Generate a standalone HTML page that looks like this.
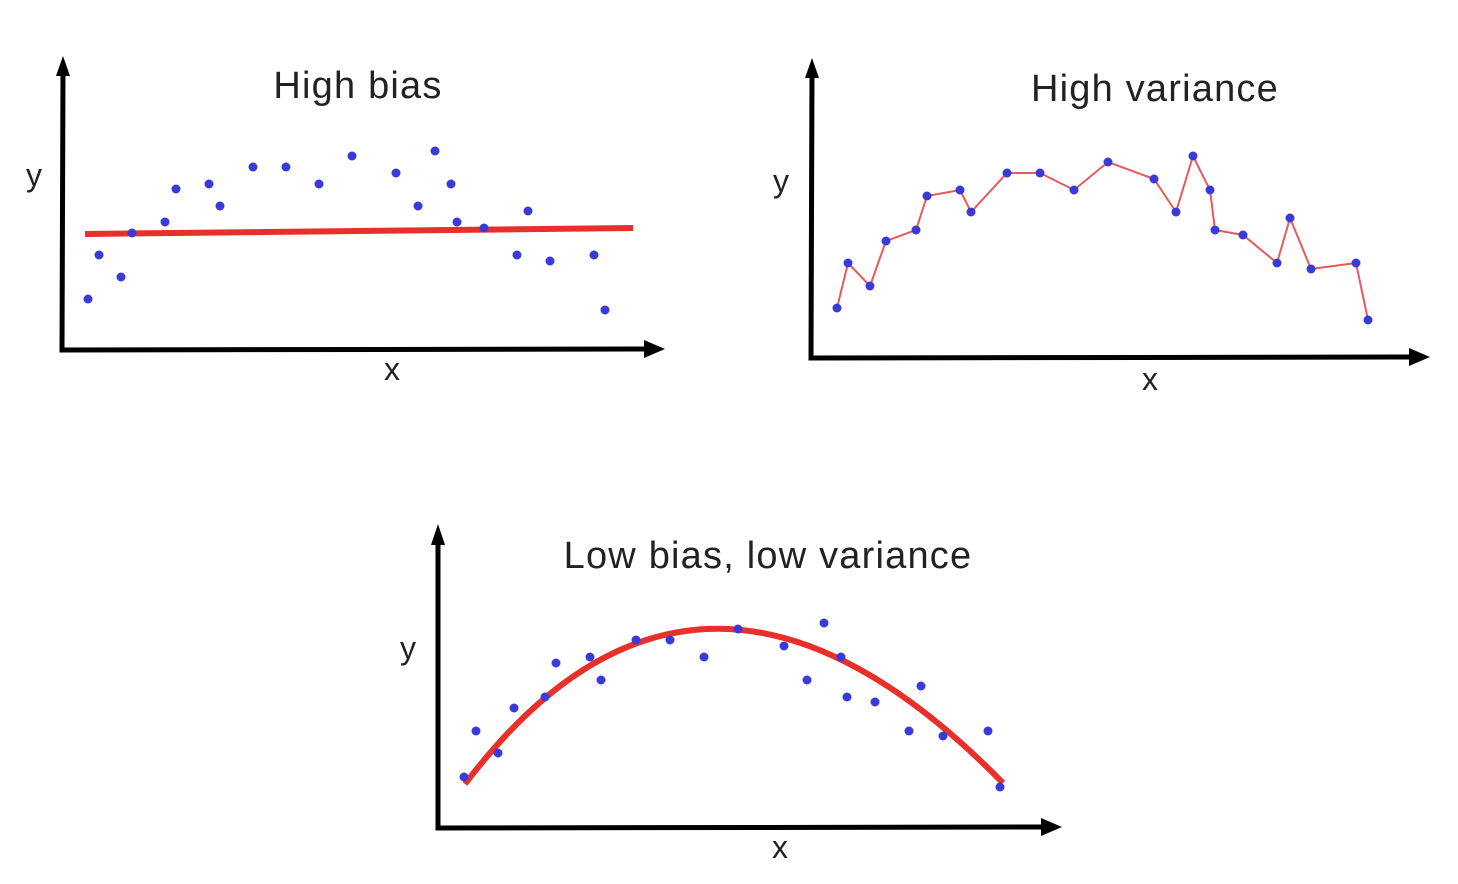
<!DOCTYPE html>
<html><head><meta charset="utf-8"><style>
html,body{margin:0;padding:0;background:#fff;}
svg{display:block;}
text{font-family:"Liberation Sans",Arial,sans-serif;fill:#222;}
</style></head><body>
<svg width="1458" height="884" viewBox="0 0 1458 884" xmlns="http://www.w3.org/2000/svg">
<g stroke="#000" stroke-width="5" fill="none" stroke-linecap="round">
<path d="M63 68 L62 350 L650 349"/>
<path d="M812 70 L811 358 L1415 357"/>
<path d="M438 537 L438 828 L1046 827"/>
</g>
<g fill="#000">
<polygon points="63,56 56,76 70,76"/>
<polygon points="665,349 644,340 644,358"/>
<polygon points="812,58 805,78 819,78"/>
<polygon points="1430,357 1409,348 1409,366"/>
<polygon points="438,524 431,545 445,545"/>
<polygon points="1062,827 1041,818 1041,836"/>
</g>
<g font-size="38" text-anchor="middle" letter-spacing="1.2">
<text x="358" y="98">High bias</text>
<text x="1155" y="101">High variance</text>
<text x="768" y="568">Low bias, low variance</text>
</g>
<g font-size="32" text-anchor="middle">
<text x="34" y="186">y</text>
<text x="392" y="380">x</text>
<text x="781" y="192">y</text>
<text x="1150" y="390">x</text>
<text x="408" y="659">y</text>
<text x="780" y="858">x</text>
</g>
<line x1="85" y1="234" x2="633" y2="228" stroke="#e8302a" stroke-width="6"/>
<polyline fill="none" stroke="#e85a5a" stroke-width="2" points="837,308 848,263 870,286 886,241 916,230 927,196 960,190 971,212 1007,173 1040,173 1074,190 1108,162 1154,179 1176,212 1193,156 1210,190 1215,230 1243,235 1277,263 1290,218 1311,269 1356,263 1368,320"/>
<path d="M465 784 Q700 474 1003 783" fill="none" stroke="#e8302a" stroke-width="6"/>
<g fill="#3a3ad8">
<circle cx="88" cy="299" r="4.5"/><circle cx="99" cy="255" r="4.5"/><circle cx="121" cy="277" r="4.5"/><circle cx="132" cy="233" r="4.5"/><circle cx="165" cy="222" r="4.5"/><circle cx="176" cy="189" r="4.5"/><circle cx="209" cy="184" r="4.5"/><circle cx="220" cy="206" r="4.5"/><circle cx="253" cy="167" r="4.5"/><circle cx="286" cy="167" r="4.5"/><circle cx="319" cy="184" r="4.5"/><circle cx="352" cy="156" r="4.5"/><circle cx="396" cy="173" r="4.5"/><circle cx="418" cy="206" r="4.5"/><circle cx="435" cy="151" r="4.5"/><circle cx="451" cy="184" r="4.5"/><circle cx="457" cy="222" r="4.5"/><circle cx="484" cy="228" r="4.5"/><circle cx="517" cy="255" r="4.5"/><circle cx="528" cy="211" r="4.5"/><circle cx="550" cy="261" r="4.5"/><circle cx="594" cy="255" r="4.5"/><circle cx="605" cy="310" r="4.5"/>
<circle cx="837" cy="308" r="4.5"/><circle cx="848" cy="263" r="4.5"/><circle cx="870" cy="286" r="4.5"/><circle cx="886" cy="241" r="4.5"/><circle cx="916" cy="230" r="4.5"/><circle cx="927" cy="196" r="4.5"/><circle cx="960" cy="190" r="4.5"/><circle cx="971" cy="212" r="4.5"/><circle cx="1007" cy="173" r="4.5"/><circle cx="1040" cy="173" r="4.5"/><circle cx="1074" cy="190" r="4.5"/><circle cx="1108" cy="162" r="4.5"/><circle cx="1154" cy="179" r="4.5"/><circle cx="1176" cy="212" r="4.5"/><circle cx="1193" cy="156" r="4.5"/><circle cx="1210" cy="190" r="4.5"/><circle cx="1215" cy="230" r="4.5"/><circle cx="1243" cy="235" r="4.5"/><circle cx="1277" cy="263" r="4.5"/><circle cx="1290" cy="218" r="4.5"/><circle cx="1311" cy="269" r="4.5"/><circle cx="1356" cy="263" r="4.5"/><circle cx="1368" cy="320" r="4.5"/>
<circle cx="464" cy="777" r="4.5"/><circle cx="476" cy="731" r="4.5"/><circle cx="498" cy="753" r="4.5"/><circle cx="514" cy="708" r="4.5"/><circle cx="545" cy="697" r="4.5"/><circle cx="556" cy="663" r="4.5"/><circle cx="590" cy="657" r="4.5"/><circle cx="601" cy="680" r="4.5"/><circle cx="636" cy="640" r="4.5"/><circle cx="670" cy="640" r="4.5"/><circle cx="704" cy="657" r="4.5"/><circle cx="738" cy="629" r="4.5"/><circle cx="784" cy="646" r="4.5"/><circle cx="807" cy="680" r="4.5"/><circle cx="824" cy="623" r="4.5"/><circle cx="841" cy="657" r="4.5"/><circle cx="847" cy="697" r="4.5"/><circle cx="875" cy="702" r="4.5"/><circle cx="909" cy="731" r="4.5"/><circle cx="921" cy="686" r="4.5"/><circle cx="943" cy="736" r="4.5"/><circle cx="988" cy="731" r="4.5"/><circle cx="1000" cy="787" r="4.5"/>
</g>
</svg>
</body></html>
